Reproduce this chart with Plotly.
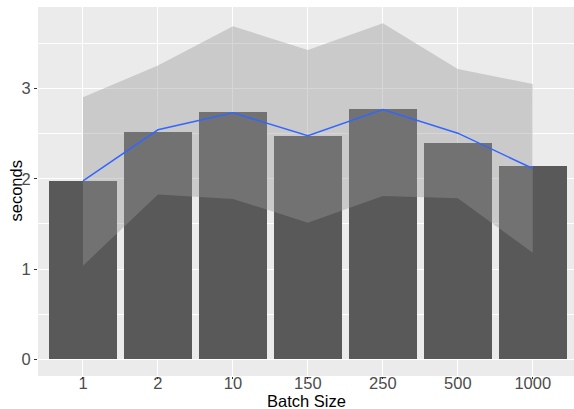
import plotly.graph_objects as go

batch_sizes = ["1", "2", "10", "150", "250", "500", "1000"]
bar_seconds = [1.98, 2.52, 2.745, 2.478, 2.778, 2.40, 2.144]
line_seconds = [1.978, 2.544, 2.733, 2.478, 2.77, 2.507, 2.115]
ribbon_upper = [2.904, 3.256, 3.693, 3.43, 3.726, 3.219, 3.052]
ribbon_lower = [1.037, 1.826, 1.778, 1.514, 1.811, 1.785, 1.181]

fig = go.Figure()
fig.add_trace(go.Bar(x=batch_sizes, y=bar_seconds, width=0.9,
                     marker=dict(color="#595959", line=dict(width=0)),
                     showlegend=False, hoverinfo="skip"))
fig.add_trace(go.Scatter(x=batch_sizes, y=ribbon_lower, mode="lines",
                         line=dict(width=0), showlegend=False, hoverinfo="skip"))
fig.add_trace(go.Scatter(x=batch_sizes, y=ribbon_upper, mode="lines",
                         line=dict(width=0), fill="tonexty",
                         fillcolor="rgba(153,153,153,0.4)",
                         showlegend=False, hoverinfo="skip"))
fig.add_trace(go.Scatter(x=batch_sizes, y=line_seconds, mode="lines",
                         line=dict(color="#3366FF", width=1.5),
                         showlegend=False))
# invisible helper trace so the tick-mark axis knows the categories
fig.add_trace(go.Scatter(x=batch_sizes, y=line_seconds, mode="markers",
                         marker=dict(size=1, opacity=0), xaxis="x2",
                         showlegend=False, hoverinfo="skip"))

FONT = "Liberation Sans, Arial, sans-serif"
tick_font = dict(family=FONT, size=16.5, color="#4D4D4D")
title_font = dict(family=FONT, size=16.5, color="black")

fig.update_layout(
    width=574, height=409,
    margin=dict(l=38, r=0, t=7, b=33, pad=0),
    paper_bgcolor="white",
    plot_bgcolor="#EBEBEB",
    bargap=0,
    xaxis=dict(type="category", range=[-0.6, 6.55], automargin=False,
               anchor="free", position=0.011,
               showgrid=True, gridcolor="white", gridwidth=1.1,
               zeroline=False, showline=False,
               ticks="", ticklen=0,
               tickfont=tick_font),
    xaxis2=dict(type="category", range=[-0.6, 6.55], automargin=False,
                overlaying="x", anchor="y", side="bottom",
                showgrid=False, zeroline=False, showline=False,
                showticklabels=False,
                ticks="outside", ticklen=2, tickcolor="#333333", tickwidth=1),
    yaxis=dict(range=[-0.186, 3.906], tickvals=[0, 1, 2, 3], automargin=False,
               showgrid=True, gridcolor="white", gridwidth=1.1,
               minor=dict(tickvals=[0.5, 1.5, 2.5, 3.5], showgrid=True,
                          gridcolor="white", gridwidth=0.55, ticks=""),
               zeroline=False, showline=False,
               ticks="outside", ticklen=3, tickcolor="#333333", tickwidth=1,
               tickfont=tick_font),
    annotations=[
        dict(text="Batch Size", xref="paper", yref="paper", x=0.5, y=0,
             yshift=-14, yanchor="top", xanchor="center", showarrow=False,
             font=title_font),
        dict(text="seconds", xref="paper", yref="paper", x=0, y=0.5,
             xshift=-12, xanchor="right", yanchor="middle", textangle=-90,
             showarrow=False, font=title_font),
    ],
)

fig.write_html("out.html", config={"displayModeBar": False},
               post_script="document.body.style.margin='0px';document.body.style.overflow='hidden';")
